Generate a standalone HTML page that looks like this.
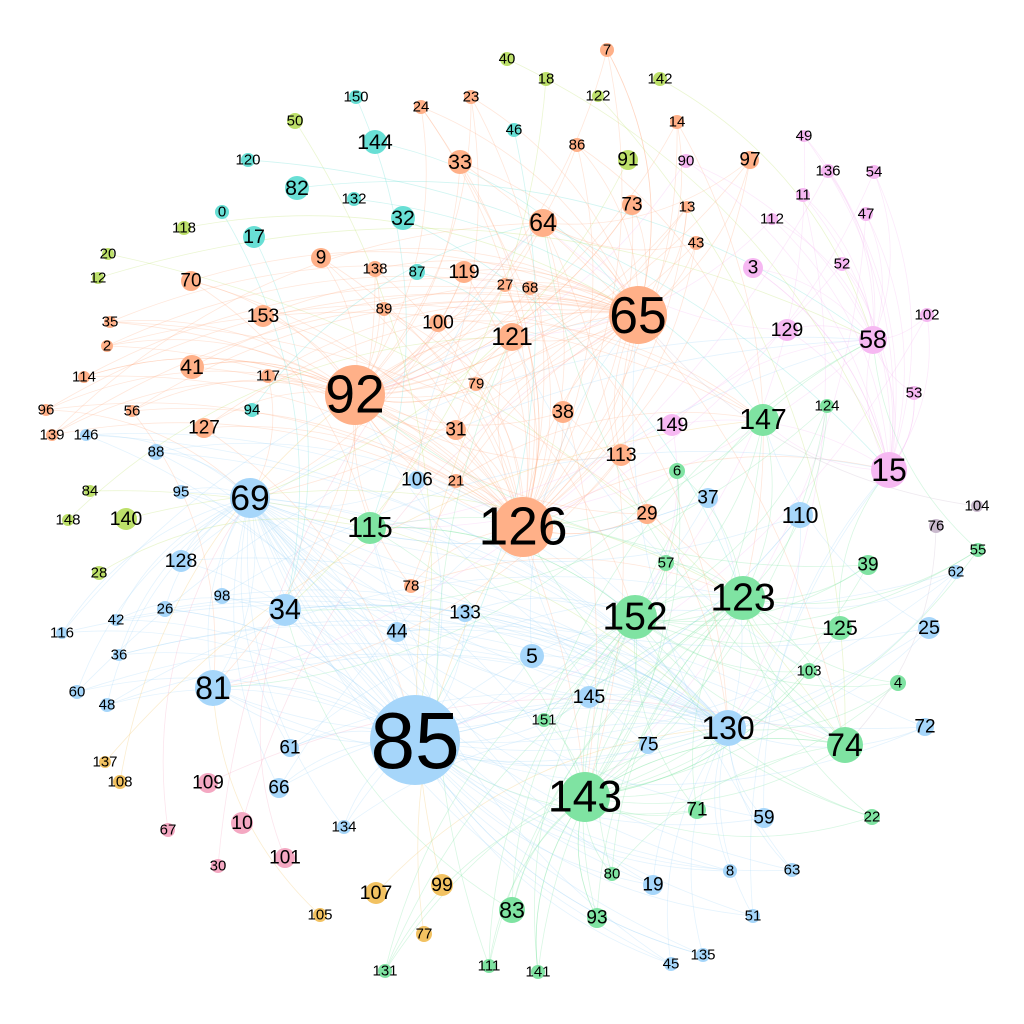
<!DOCTYPE html>
<html><head><meta charset="utf-8"><style>
html,body{margin:0;padding:0;background:#fff;width:1024px;height:1024px;overflow:hidden}
svg text{font-family:"Liberation Sans",Arial,sans-serif;text-anchor:middle;dominant-baseline:central;fill:#000}
</style></head><body>
<svg id="chart" width="1024" height="1024" viewBox="0 0 1024 1024">
<g id="edges"></g>
<g id="nodes"></g>
</svg>
<script>
const labels=[85,126,92,65,143,152,123,15,130,69,74,115,81,147,34,121,64,58,110,125,83,
144,33,82,32,153,41,119,129,149,113,29,38,31,9,70,127,3,17,5,44,128,140,25,39,37,106,133,145,75,107,99,93,19,71,59,101,10,109,66,61,100,73,91,97,57,6,22,4,72,103,
150,50,120,0,118,20,12,35,2,114,96,139,146,56,88,84,148,95,28,26,98,42,116,36,60,48,137,108,67,30,134,105,77,131,111,141,45,135,51,8,63,80,151,78,21,79,117,94,89,138,27,68,87,24,23,46,40,18,7,122,142,14,86,90,13,43,49,136,54,11,112,47,52,102,53,124,104,76,55,62,132];
const xs=[415,523,355,638,585,635,743,889,728,250,845,370,213,763,285,512,543,873,800,840,512,
375,460,297,403,263,192,464,787,672,621,647,563,456,321,191,204,753,254,532,397,181,126,929,868,708,417,465,589,648,376,442,597,653,697,764,285,242,208,279,290,438,632,628,750,666,677,872,898,925,809,
356,295,248,222,184,108,98,110,107,84,46,52,86,132,156,90,68,181,99,165,222,116,62,119,77,107,105,120,168,218,344,320,424,385,489,538,671,703,753,730,792,612,544,411,456,476,268,252,384,375,505,530,417,421,471,514,507,546,607,598,660,677,577,686,687,696,804,828,874,803,772,866,842,927,914,827,977,936,978,956,354];
const ys=[740,527,395,315,797,617,598,470,728,498,745,528,688,420,610,337,223,340,515,628,910,
142,162,188,218,316,367,272,330,425,455,514,412,430,258,281,428,268,237,656,632,561,519,628,565,498,480,613,697,745,893,885,918,885,810,818,858,823,783,788,748,323,205,160,160,563,471,817,683,727,671,
97,121,160,212,228,254,278,322,346,377,410,435,435,411,452,491,520,492,573,609,596,620,633,655,692,705,762,782,830,866,827,915,934,971,966,972,964,955,916,871,870,874,720,586,481,384,376,410,309,269,285,288,272,107,97,130,59,79,50,96,79,122,145,161,207,243,136,171,172,195,219,214,264,315,393,406,506,526,550,572,199];
const sizes=[45,30,30,29,25,22,22,18,18,20,18,16,18,16,16,14,14,14,13,12,13,
12,12,12,12,11,12,11,11,11,11,10,11,10,10,10,10,10,11,12,10,11,11,11,10,10,9,9,11,9,11,11,10,10,9,10,10,11,10,10,9,9,10,10,9,8,8,8,8,9,8,
7,8,7,7,7,6,6,6,6,6,6,6,6,6,8,6,6,7,7,8,8,6,6,6,7,7,6,7,7,7,7,7,8,7,7,7,7,7,7,7,7,7,7,7,7,7,7,7,7,8,7,7,8,7,7,7,7,7,7,6,7,7,7,7,6,7,6,7,7,7,6,7,7,7,7,7,6,7,7,7,7];
const groups=["B","O","O","O","G","G","G","P","B","B","G","G","B","G","B","O","O","P","B","G","G",
"C","O","C","C","O","O","O","P","P","O","O","O","O","O","O","O","P","C","B","B","B","L","B","G","B","B","B","B","B","Y","Y","G","B","G","B","R","R","R","B","B","O","O","L","O","G","G","G","G","B","G",
"C","L","C","C","L","L","L","O","O","O","O","O","B","O","B","L","L","B","L","B","B","B","B","B","B","B","Y","Y","R","R","B","Y","Y","G","G","G","B","B","B","B","B","G","G","O","O","O","O","C","O","O","O","O","C","O","O","C","L","L","O","L","L","O","O","P","O","O","P","P","P","P","P","P","P","P","P","G","K","K","G","B","C"];
const palette={O:"#ffb088",B:"#a6d6fa",G:"#7fe3a2",P:"#f6b8f2",L:"#bde06a",C:"#68dfd5",Y:"#f2c262",R:"#f4a8c2",K:"#c9b9cd"};
const hubs=[0,1,2,3,4,5,6,7,8,9,10,11,12,13,14,15,16,17];
const E=document.getElementById('edges'),N=document.getElementById('nodes');
const ns='http://www.w3.org/2000/svg';
function col(i){return palette[groups[i]]||"#ccc";}
function rad(i){return sizes[i]||7;}
for(let i=0;i<labels.length;i++){
  let targets=[];
  for(const h of hubs){ if(h!==i && groups[h]===groups[i]) targets.push(h); }
  targets=targets.slice(0,3);
  targets.push(hubs[(i*7)%hubs.length]);
  for(const j of targets){
    if(j===i) continue;
    const x1=xs[i],y1=ys[i],x2=xs[j],y2=ys[j];
    const mx=(x1+x2)/2+(y2-y1)*0.2,my=(y1+y2)/2-(x2-x1)*0.2;
    const p=document.createElementNS(ns,'path');
    p.setAttribute('d',`M${x1},${y1}Q${mx},${my} ${x2},${y2}`);
    p.setAttribute('fill','none');p.setAttribute('stroke',col(i));
    p.setAttribute('stroke-opacity','0.3');p.setAttribute('stroke-width','0.8');
    
    
    E.appendChild(p);
  }
}
const order=labels.map((_,i)=>i).sort((a,b)=>rad(a)-rad(b));
for(const i of order){
  const g=document.createElementNS(ns,'g');
  
  
  const c=document.createElementNS(ns,'circle');
  c.setAttribute('cx',xs[i]);c.setAttribute('cy',ys[i]);c.setAttribute('r',rad(i));
  c.setAttribute('fill',col(i));
  
  
  const t=document.createElementNS(ns,'text');
  t.setAttribute('x',xs[i]);t.setAttribute('y',ys[i]);
  const fs=rad(i)>=9?Math.max(19,rad(i)*1.78):15;
  t.setAttribute('font-size',fs);
  t.textContent=labels[i];
  
  
  g.appendChild(c);g.appendChild(t);N.appendChild(g);
}
</script>
</body></html>
